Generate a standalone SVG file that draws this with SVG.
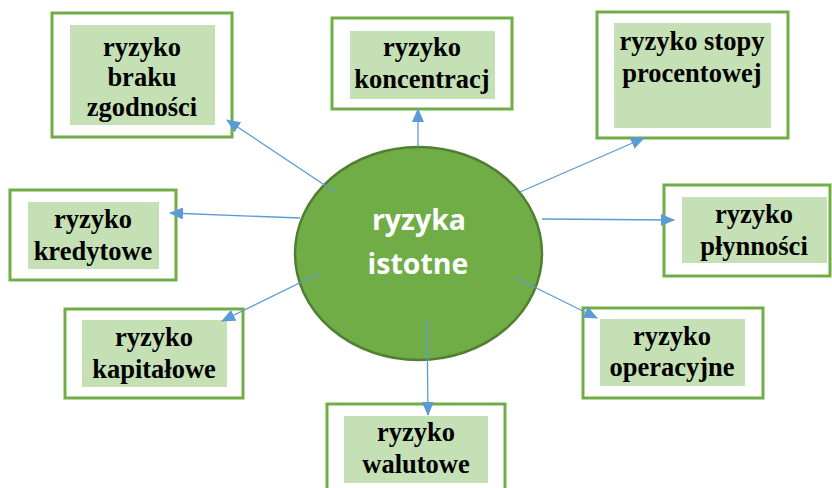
<svg xmlns="http://www.w3.org/2000/svg" width="832" height="488" viewBox="0 0 832 488">
<style>
.outer{fill:#fff;stroke:#70AD47;stroke-width:3}
.inner{fill:#C5E0B4}
.t{font-weight:bold;font-size:26.5px;fill:#000;text-anchor:middle}
.c{font-weight:bold;font-size:28.5px;fill:#fff;text-anchor:middle}
.e{stroke:#5B9BD5;stroke-width:1.3;fill:none;marker-end:url(#ah)}
</style>
<defs>
<marker id="ah" markerUnits="userSpaceOnUse" markerWidth="14" markerHeight="12" refX="13" refY="6" orient="auto">
<path d="M0,0 L14,6 L0,12 Z" fill="#5B9BD5"/>
</marker>
</defs>
<rect width="832" height="488" fill="#fff"/>
<g id="n-braku" font-family="Liberation Serif, DejaVu Serif, serif">
<rect class="outer" x="52" y="13" width="180" height="124"/>
<rect class="inner" x="70" y="25" width="145" height="100"/>
<text class="t" x="142" y="56">ryzyko</text>
<text class="t" x="142" y="86">braku</text>
<text class="t" x="142" y="116">zgodności</text>
</g>
<g id="n-koncentracj" font-family="Liberation Serif, DejaVu Serif, serif">
<rect class="outer" x="332" y="18" width="180" height="91"/>
<rect class="inner" x="350" y="31" width="145" height="68"/>
<text class="t" x="422" y="56">ryzyko</text>
<text class="t" x="422" y="88">koncentracj</text>
</g>
<g id="n-stopy" font-family="Liberation Serif, DejaVu Serif, serif">
<rect class="outer" x="597" y="12" width="191" height="126"/>
<rect class="inner" x="614" y="23" width="157" height="105"/>
<text class="t" x="692" y="50">ryzyko stopy</text>
<text class="t" x="692" y="82">procentowej</text>
</g>
<g id="n-kredytowe" font-family="Liberation Serif, DejaVu Serif, serif">
<rect class="outer" x="10" y="190" width="166" height="90"/>
<rect class="inner" x="28" y="202" width="131" height="67"/>
<text class="t" x="93" y="228">ryzyko</text>
<text class="t" x="93" y="260">kredytowe</text>
</g>
<g id="n-plynnosci" font-family="Liberation Serif, DejaVu Serif, serif">
<rect class="outer" x="664" y="185" width="166" height="91"/>
<rect class="inner" x="682" y="197" width="145" height="66"/>
<text class="t" x="754" y="223">ryzyko</text>
<text class="t" x="754" y="255">płynności</text>
</g>
<g id="n-kapitalowe" font-family="Liberation Serif, DejaVu Serif, serif">
<rect class="outer" x="65" y="309" width="178" height="89"/>
<rect class="inner" x="82" y="320" width="145" height="67"/>
<text class="t" x="154" y="346">ryzyko</text>
<text class="t" x="154" y="378">kapitałowe</text>
</g>
<g id="n-operacyjne" font-family="Liberation Serif, DejaVu Serif, serif">
<rect class="outer" x="583" y="308" width="180" height="90"/>
<rect class="inner" x="600" y="319" width="145" height="67"/>
<text class="t" x="672" y="345">ryzyko</text>
<text class="t" x="672" y="376">operacyjne</text>
</g>
<g id="n-walutowe" font-family="Liberation Serif, DejaVu Serif, serif">
<rect class="outer" x="327" y="404" width="178" height="90"/>
<rect class="inner" x="344" y="416" width="144" height="67"/>
<text class="t" x="416" y="441">ryzyko</text>
<text class="t" x="416" y="473">walutowe</text>
</g>
<g id="n-center" font-family="Open Sans, Liberation Sans, sans-serif">
<ellipse cx="418.5" cy="253.5" rx="123.5" ry="106.5" fill="#70AD47" stroke="#507E32" stroke-width="2.5"/>
<text class="c" x="419" y="230">ryzyka</text>
<text class="c" x="418" y="274">istotne</text>
</g>
<g id="connectors">
<line class="e" x1="335" y1="192" x2="227" y2="120"/>
<line class="e" x1="418" y1="147" x2="418" y2="109"/>
<line class="e" x1="520" y1="192" x2="644" y2="138"/>
<line class="e" x1="300" y1="218" x2="170" y2="213"/>
<line class="e" x1="542" y1="219" x2="674" y2="220"/>
<line class="e" x1="320" y1="273" x2="222" y2="321"/>
<line class="e" x1="516" y1="278" x2="597" y2="318"/>
<line class="e" x1="427" y1="320" x2="428" y2="415"/>
</g>
</svg>
